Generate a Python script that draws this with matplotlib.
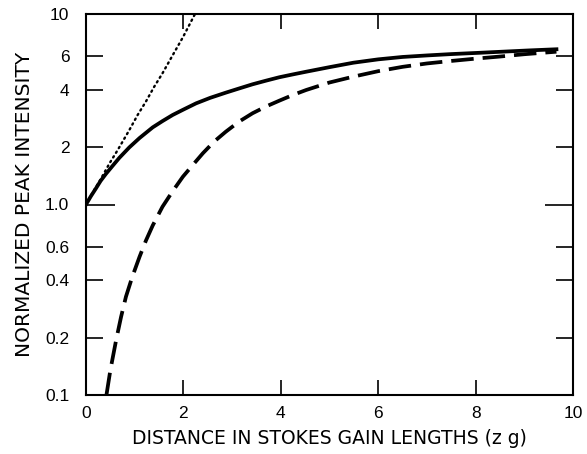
import matplotlib
matplotlib.use("Agg")
import matplotlib.pyplot as plt

plt.rcParams['font.family'] = ['Liberation Sans', 'DejaVu Sans']

# Solid curve
solid_x = [0.0, 0.1, 0.205, 0.3, 0.41, 0.55, 0.685, 0.89, 1.1, 1.37, 1.57, 1.78, 2.0, 2.26,
           2.55, 2.87, 3.15, 3.42, 3.7, 3.97, 4.25, 4.52, 5.0, 5.49, 6.0, 6.5, 7.0, 7.5,
           8.1, 8.6, 9.1, 9.66]
solid_y = [1.0, 1.105, 1.216, 1.33, 1.449, 1.60, 1.758, 1.995, 2.234, 2.541, 2.74, 2.951,
           3.15, 3.396, 3.63, 3.864, 4.07, 4.276, 4.47, 4.656, 4.82, 4.977, 5.26, 5.55,
           5.78, 5.95, 6.06, 6.16, 6.26, 6.35, 6.44, 6.53]

# Dashed curve
dashed_x = [0.42, 0.5, 0.62, 0.72, 0.82, 0.95, 1.10, 1.23, 1.37, 1.57, 1.78, 1.99, 2.2,
            2.40, 2.63, 2.87, 3.14, 3.42, 3.7, 3.97, 4.25, 4.52, 5.0, 5.49, 6.0, 6.5, 7.0,
            7.47, 8.0, 8.5, 9.0, 9.66]
dashed_y = [0.1, 0.135, 0.195, 0.257, 0.328, 0.417, 0.532, 0.646, 0.776, 0.973, 1.175,
            1.40, 1.62, 1.858, 2.138, 2.41, 2.72, 3.013, 3.273, 3.508, 3.76, 3.99, 4.37,
            4.69, 5.01, 5.28, 5.50, 5.66, 5.83, 5.98, 6.15, 6.34]

# Dotted curve
dotted_x = [0.0, 0.15, 0.31, 0.48, 0.65, 0.89, 1.06, 1.23, 1.40, 1.57, 1.75, 1.99, 2.22, 2.24]
dotted_y = [1.0, 1.17, 1.37, 1.64, 1.93, 2.46, 2.95, 3.47, 4.15, 4.88, 5.89, 7.55, 9.8, 10.0]

xticks = [0, 2, 4, 6, 8, 10]
xticklabels = ['0', '2', '4', '6', '8', '10']
yticks = [0.1, 0.2, 0.4, 0.6, 1.0, 2, 4, 6, 10]
yticklabels = ['0.1', '0.2', '0.4', '0.6', '1.0', '2', '4', '6', '10']

fig = plt.figure(figsize=(5.87, 4.54), dpi=100)
ax = fig.add_axes([86/587, 1 - 395/454, (573 - 86)/587, (395 - 14)/454])

ax.plot(solid_x, solid_y, color='black', lw=2.7, solid_joinstyle='round')
ax.plot(dashed_x, dashed_y, color='black', lw=2.7, dashes=(6.0, 2.4))
ax.plot(dotted_x, dotted_y, color='black', lw=1.7, dashes=(0.6, 1.7), dash_capstyle='round')

ax.set_yscale('log')
ax.set_xlim(0, 10)
ax.set_ylim(0.1, 10)
ax.set_xticks(xticks)
ax.set_xticklabels(xticklabels)
ax.set_yticks(yticks)
ax.set_yticklabels(yticklabels)
ax.yaxis.set_minor_locator(matplotlib.ticker.NullLocator())

for s in ax.spines.values():
    s.set_linewidth(1.5)

ax.tick_params(axis='x', direction='in', length=11, width=1.2, top=True, bottom=True,
               labelsize=12.5, pad=8)
ax.tick_params(axis='y', direction='in', length=12.5, width=1.2, left=True, right=True,
               labelsize=12.5, pad=12)

# longer tick at 1.0
for t in ax.yaxis.get_major_ticks():
    if abs(t.get_loc() - 1.0) < 1e-9:
        t.tick1line.set_markersize(21)
        t.tick2line.set_markersize(20)

ax.set_xlabel('DISTANCE IN STOKES GAIN LENGTHS (z g)', fontsize=13.5, labelpad=6,
              family=['DejaVu Sans'])
ax.set_ylabel('NORMALIZED PEAK INTENSITY', fontsize=14.5, labelpad=8,
              family=['DejaVu Sans'])

fig.savefig('out.png', dpi=100)
